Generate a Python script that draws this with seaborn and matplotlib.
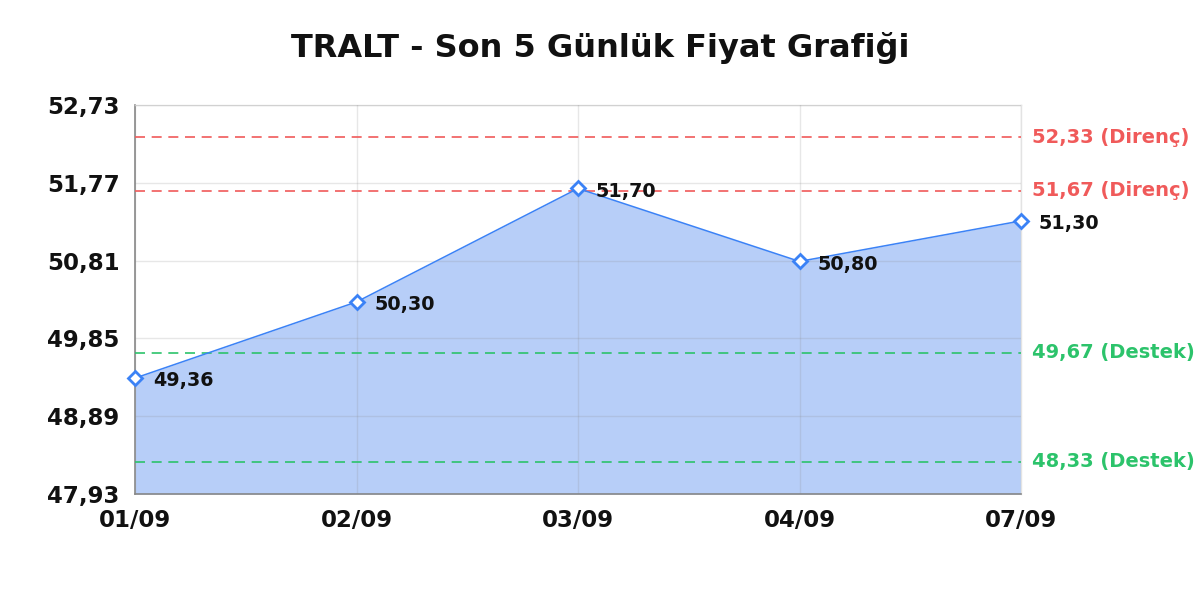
import matplotlib
matplotlib.use("Agg")
import matplotlib.pyplot as plt
import seaborn as sns
import pandas as pd
import numpy as np

# ---- data ----
dates = ["01/09", "02/09", "03/09", "04/09", "07/09"]
prices = [49.36, 50.30, 51.70, 50.80, 51.30]
resistance = [52.33, 51.67]
support = [49.67, 48.33]
y_ticks = [47.93, 48.89, 49.85, 50.81, 51.77, 52.73]
title = "TRALT - Son 5 Günlük Fiyat Grafiği"

def tr(v):
    return f"{v:.2f}".replace(".", ",")

sns.set_theme(style="white")
plt.rcParams['font.family'] = ['DejaVu Sans']

df = pd.DataFrame({"idx": range(len(dates)), "date": dates, "price": prices})

fig = plt.figure(figsize=(12, 6), dpi=100)
ax = fig.add_axes([135/1200, 1-494/600, (1021-135)/1200, (494-105)/600])

line_c = "#3b82f6"
fill_c = "#b7cef8"

ax.fill_between(df["idx"], df["price"], y_ticks[0], color=fill_c, zorder=1, linewidth=0)
sns.lineplot(data=df, x="idx", y="price", ax=ax, color=line_c, linewidth=1.1, zorder=4,
             marker="D", markersize=7, markerfacecolor="white", markeredgecolor=line_c,
             markeredgewidth=2, clip_on=False)

for i, p in enumerate(prices):
    ax.annotate(tr(p), (i, p), xytext=(13, -2), textcoords="offset points",
                ha="left", va="center", fontsize=13.8, fontweight="bold", color="#111111",
                zorder=6, annotation_clip=False)

red = "#f05a5a"
green = "#2cc36b"
for r in resistance:
    ax.axhline(r, color=red, linestyle=(0, (6, 4)), linewidth=1.2, zorder=3)
    ax.annotate(f"{tr(r)} (Direnç)", (1, r), xycoords=("axes fraction", "data"),
                xytext=(8, 0), textcoords="offset points", ha="left", va="center",
                fontsize=14, fontweight="bold", color=red, annotation_clip=False)
for s in support:
    ax.axhline(s, color=green, linestyle=(0, (6, 4)), linewidth=1.2, zorder=3)
    ax.annotate(f"{tr(s)} (Destek)", (1, s), xycoords=("axes fraction", "data"),
                xytext=(8, 0), textcoords="offset points", ha="left", va="center",
                fontsize=14, fontweight="bold", color=green, annotation_clip=False)

ax.set_xlim(0, len(dates) - 1)
ax.set_ylim(y_ticks[0], y_ticks[-1])
ax.set_xticks(range(len(dates)))
ax.set_xticklabels(dates, fontsize=16.5, fontweight="bold")
ax.set_yticks(y_ticks)
ax.set_yticklabels([tr(v) for v in y_ticks], fontsize=16.5, fontweight="bold")
ax.tick_params(axis="both", length=0, colors="#111111")
ax.tick_params(axis="x", pad=11)
ax.tick_params(axis="y", pad=11)
ax.set_xlabel("")
ax.set_ylabel("")
ax.set_axisbelow(False)
ax.grid(True, color="#8a8a8a", alpha=0.2, linewidth=1)

for side in ["top", "right"]:
    ax.spines[side].set_color("#e3e3e3")
    ax.spines[side].set_linewidth(1)
for side in ["left", "bottom"]:
    ax.spines[side].set_color("#888888")
    ax.spines[side].set_linewidth(1.2)

fig.text(0.5, 1-48/600, title, ha="center", va="center", fontsize=23,
         fontweight="bold", color="#111111")

fig.savefig("out.png", dpi=100)
